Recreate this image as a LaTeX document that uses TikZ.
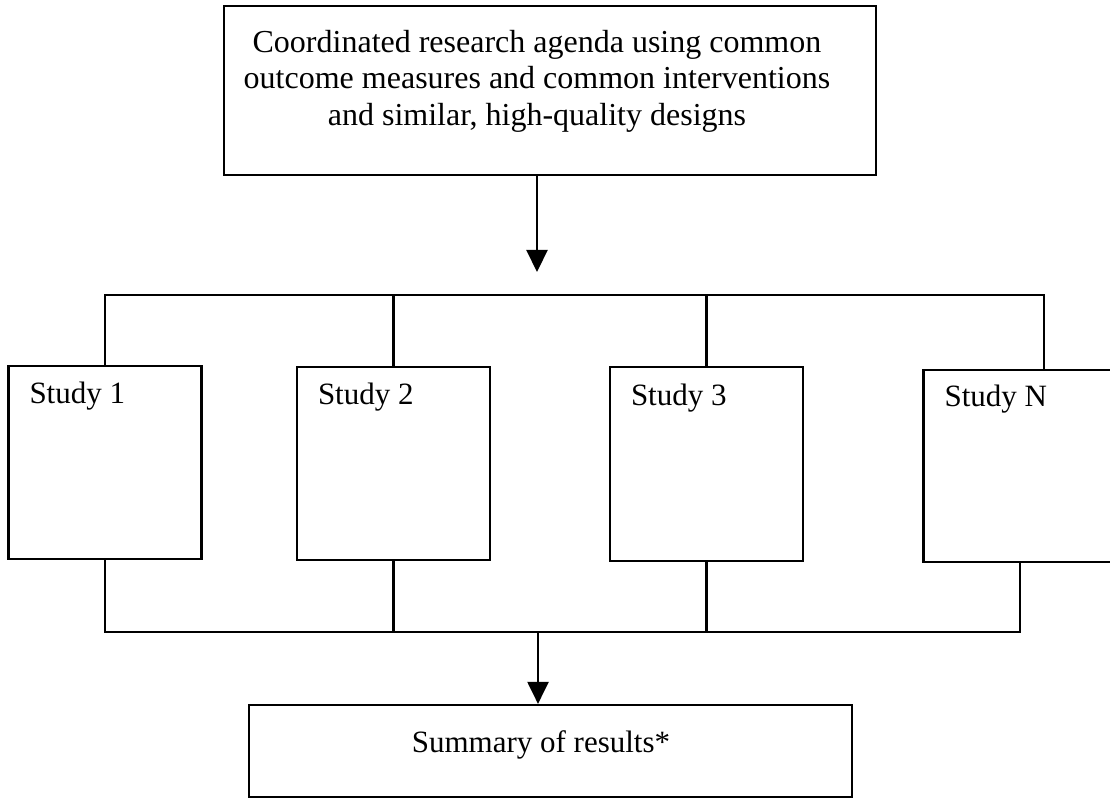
\documentclass[tikz,border=0pt]{standalone}
\usepackage{fontspec}
\setmainfont{Liberation Serif}
\usetikzlibrary{arrows.meta}

\begin{document}
\begin{tikzpicture}[x=1pt, y=-1pt, line width=2.2pt,
    box/.style={rectangle, draw, inner sep=0pt},
    studybox/.style={box, minimum width=193pt, minimum height=193pt},
    txt/.style={inner sep=0pt, font=\fontsize{31pt}{36.5pt}\selectfont},
    arr/.style={-{Triangle[width=21pt, length=22pt]}}]
    \useasboundingbox (0,0) rectangle (1110,799);

            \node[box, minimum width=652pt, minimum height=169pt] at (550,90.5)   (agenda) {};
            \node[txt, align=center, anchor=north, font=\fontsize{32pt}{36.5pt}\selectfont] at (537,29)   (agendatxt) {Coordinated research agenda using common\\outcome measures and common interventions\\and similar, high-quality designs};

            \coordinate (tip) at (537,272);
            \coordinate (split) at (537,295);
            \coordinate (join) at (538,632);

            \node[studybox] at (105,462.5)   (s1) {};
            \node[studybox] at (393.5,463.5) (s2) {};
            \node[studybox, minimum height=194pt] at (706.5,464) (s3) {};
            \node[studybox, minimum height=192pt] at (1020,466)  (sN) {};

            \node[txt, anchor=base west] at ([shift={(21,39)}]s1.north west) (s1txt) {Study 1};
            \node[txt, anchor=base west] at ([shift={(21,39)}]s2.north west) (s2txt) {Study 2};
            \node[txt, anchor=base west] at ([shift={(21,40)}]s3.north west) (s3txt) {Study 3};
            \node[txt, anchor=base west] at ([shift={(21,38)}]sN.north west) (sNtxt) {Study N};

            \node[box, minimum width=603pt, minimum height=92pt] at (550.5,751)   (summary) {};
            \node[txt, anchor=base] at (541,752)   (sumtxt) {Summary of results*};

            \draw [arr] (agenda.south -| tip) -- (tip);
            \draw (s1.north) |- ([xshift=24pt]sN.north |- split) -- ([xshift=24pt]sN.north);
            \draw (s2.north) -- (s2.north |- split);
            \draw (s3.north) -- (s3.north |- split);

            \draw (s1.south) |- (sN.south |- join) -- (sN.south);
            \draw (s2.south) -- (s2.south |- join);
            \draw (s3.south) -- (s3.south |- join);
            \draw [arr] (join) -- (summary.north -| join);

        \end{tikzpicture}
\end{document}
